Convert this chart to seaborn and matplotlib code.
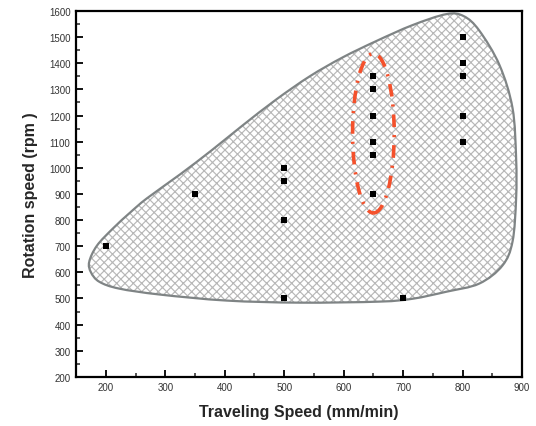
import numpy as np
import pandas as pd
import matplotlib
matplotlib.use("Agg")
import matplotlib.pyplot as plt
from matplotlib.path import Path
from matplotlib.patches import PathPatch, Ellipse
from matplotlib.ticker import MultipleLocator
import seaborn as sns

# ---- data ----
traveling_speed = [200, 350, 500, 500, 500, 500, 650, 650, 650, 650, 650, 650,
                   700, 800, 800, 800, 800, 800]
rotation_speed = [700, 900, 1000, 950, 800, 500, 1350, 1300, 1200, 1100, 1050, 900,
                  500, 1500, 1400, 1350, 1200, 1100]

# process window outline (data coords)
blob_x = [172, 185, 212, 241, 269, 325, 378, 430, 487, 543, 598, 655, 716,
          773, 802, 828, 862, 884, 890, 890, 884, 867, 828, 773, 716, 660,
          526, 403, 291, 222, 189, 175]
blob_y = [640, 702, 768, 829, 883, 975, 1067, 1162, 1262, 1350, 1422, 1485, 1546,
          1588, 1580, 1525, 1393, 1228, 1036, 883, 718, 626, 557, 526, 499, 488,
          484, 492, 515, 538, 564, 600]

# highlighted region (ellipse)
ell_center = (650, 1132)
ell_width = 70
ell_height = 610

x_ticks = [200, 300, 400, 500, 600, 700, 800, 900]
y_ticks = list(range(200, 1601, 100))

sns.set_style("ticks")
plt.rcParams['font.family'] = ['Liberation Sans', 'DejaVu Sans']

fig = plt.figure(figsize=(5.36, 4.27), dpi=100)
ax = fig.add_axes([0.142, 0.115, 0.832, 0.857])

# smooth closed outline via Catmull-Rom -> cubic Bezier
P = np.column_stack([blob_x, blob_y]).astype(float)
n = len(P)
verts = [P[0]]
codes = [Path.MOVETO]
for i in range(n):
    p0, p1, p2, p3 = P[i - 1], P[i], P[(i + 1) % n], P[(i + 2) % n]
    c1 = p1 + (p2 - p0) / 6.0
    c2 = p2 - (p3 - p1) / 6.0
    verts += [c1, c2, p2]
    codes += [Path.CURVE4] * 3
path = Path(np.array(verts), codes)

plt.rcParams['hatch.linewidth'] = 0.85
fill = PathPatch(path, facecolor='white', edgecolor='#b8b8b8', hatch='xxxx', lw=0, zorder=1)
ax.add_patch(fill)
outline = PathPatch(path, fill=False, edgecolor='#7f8485', lw=1.6, zorder=2)
ax.add_patch(outline)

df = pd.DataFrame({"Traveling Speed": traveling_speed, "Rotation speed": rotation_speed})
sns.scatterplot(data=df, x="Traveling Speed", y="Rotation speed", marker='s', s=19,
                color='black', edgecolor='black', linewidth=0, ax=ax, zorder=4)

ell = Ellipse(ell_center, ell_width, ell_height, fill=False, edgecolor='#f4512c',
              lw=2.6, linestyle=(0, (3.5, 2.2, 0.6, 2.2)), zorder=3)
ax.add_patch(ell)

ax.set_xlim(150, 900)
ax.set_ylim(200, 1600)
ax.set_xticks(x_ticks)
ax.set_yticks(y_ticks)
ax.xaxis.set_minor_locator(MultipleLocator(50))
ax.yaxis.set_minor_locator(MultipleLocator(50))
ax.tick_params(axis='both', which='major', direction='in', length=5, width=1.3,
               labelsize=7, colors='black', labelcolor='#333333', pad=4)
ax.tick_params(axis='both', which='minor', direction='in', length=3, width=1.1)
ax.tick_params(top=False, right=False, which='both')
for sp in ax.spines.values():
    sp.set_linewidth(1.6)
    sp.set_color('black')
    sp.set_visible(True)

ax.set_xlabel("Traveling Speed (mm/min)", fontsize=11.5, fontweight='bold', labelpad=8)
ax.set_ylabel("Rotation speed (rpm )", fontsize=11.5, fontweight='bold', labelpad=8)

fig.savefig("out.png", dpi=100)
